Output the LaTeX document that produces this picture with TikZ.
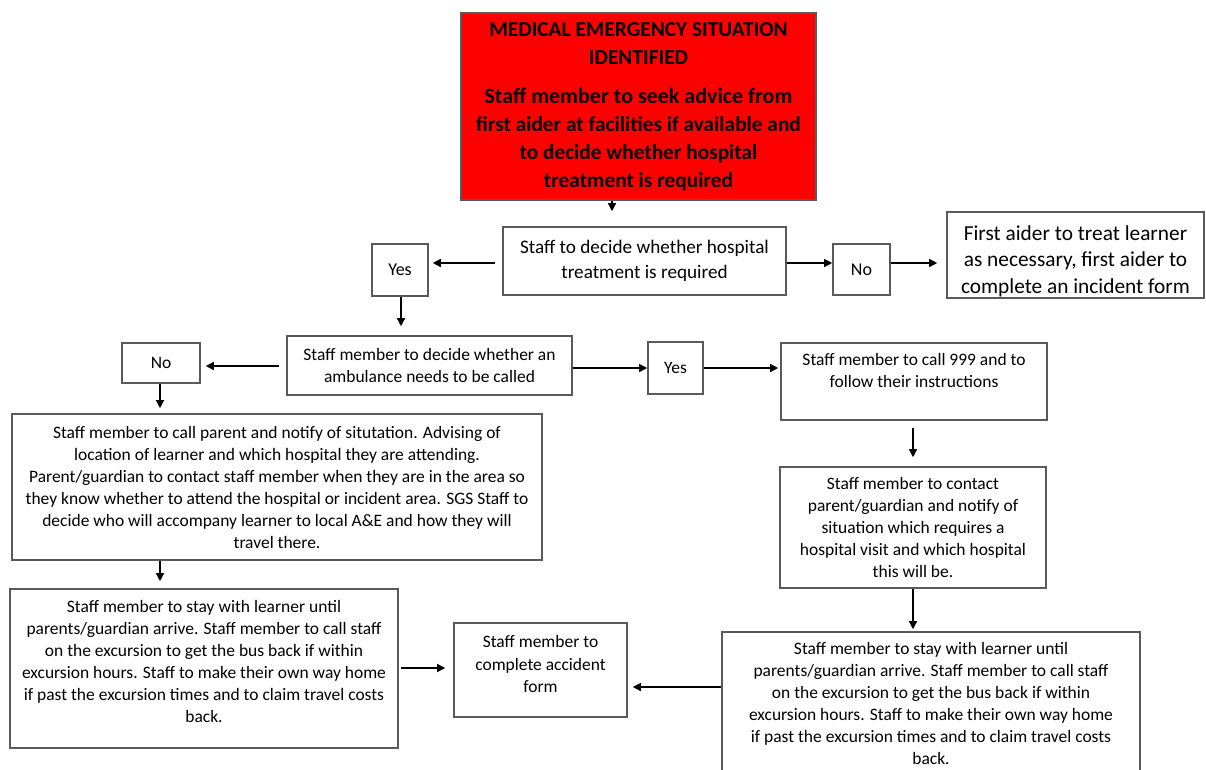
\documentclass[tikz,border=0pt]{standalone}
\usepackage{fontspec}
\setmainfont{Carlito}
\usetikzlibrary{arrows.meta}
\definecolor{EmRed}{HTML}{FF0000}
\definecolor{BoxGray}{HTML}{5A5A5A}
\newcommand{\fsz}[2]{\fontsize{#1}{#2}\selectfont}

\begin{document}
\begin{tikzpicture}[
    % 1 unit = 1 pixel of the sheet
    x=0.75pt, y=-0.75pt,
    >={Triangle[length=6pt,width=6pt]},
    box/.style={draw=BoxGray, line width=1.2pt, fill=white, align=center, inner sep=0pt},
    wh/.style 2 args={minimum width=#1*0.75pt, minimum height=#2*0.75pt},
    body/.style={font=\fsz{13.1}{16.5}},
    % text set off the middle of its box
    offtext/.style n args={3}{label={[align=center, inner sep=0pt, font=#2, yshift=#1]center:{#3}}},
    flow/.style={->, line width=1pt}
]

    \useasboundingbox (0,0) rectangle (1206,769);

    % --- 1. top box ---
    \node[box, fill=EmRed, wh={355}{187}, font=\bfseries\fsz{16}{21}] (alarm) at (638.5,106.5)
        {MEDICAL EMERGENCY SITUATION\\IDENTIFIED\\[8pt]\fsz{16.5}{19.5}Staff member to seek advice from\\first aider at facilities if available and\\to decide whether hospital\\treatment is required};

    % --- 2. first decision ---
    \node[box, wh={283}{68}, font=\fsz{14.4}{19}] (hosp) at (644.5,261)
        {Staff to decide whether hospital\\treatment is required};
    \node[box, wh={56}{52}, font=\fsz{13.5}{19}] (yesA) at (400,270) {Yes};
    \node[box, wh={57}{51}, font=\fsz{13.5}{19}] (noA) at (861.5,269.5) {No};
    \node[box, wh={257}{86},
          offtext={-4.5pt}{\fsz{16}{20}}{First aider to treat learner\\as necessary, first aider to\\complete an incident form}] (treat) at (1075.5,255) {};

    % --- 3. ambulance decision ---
    \node[box, wh={285}{59}, font=\fsz{13.1}{17}] (amb) at (429.5,365.5)
        {Staff member to decide whether an\\ambulance needs to be called};
    \node[box, wh={78}{40}, font=\fsz{13.1}{17}] (noB) at (161,363) {No};
    \node[box, wh={55}{52}, font=\fsz{13.1}{17}] (yesB) at (675.5,368) {Yes};

    % --- 4. right branch ---
    \node[box, body, wh={266}{77}] (call) at (914,381.5)
        {Staff member to call 999 and to\\follow their instructions\\\mbox{}};
    \node[box, body, wh={266}{121}] (notify) at (913,527.5)
        {Staff member to contact\\parent/guardian and notify of\\situation which requires a\\hospital visit and which hospital\\this will be.};
    \node[box, body, wh={418}{143}] (waitB) at (931,703.5)
        {Staff member to stay with learner until\\parents/guardian arrive. Staff member to call staff\\on the excursion to get the bus back if within\\excursion hours. Staff to make their own way home\\if past the excursion times and to claim travel costs\\back.};

    % --- 5. left branch ---
    \node[box, body, wh={530}{146}] (parent) at (277,487)
        {Staff member to call parent and notify of situtation. Advising of\\location of learner and which hospital they are attending.\\Parent/guardian to contact staff member when they are in the area so\\they know  whether to attend the hospital or incident area. SGS Staff to\\decide who will accompany learner to local A\&E and how they will\\travel there.};
    \node[box, wh={388}{159},
          offtext={5pt}{\fsz{13.1}{16.5}}{Staff member to stay with learner until\\parents/guardian arrive. Staff member to call staff\\on the excursion to get the bus back if within\\excursion hours. Staff to make their own way home\\if past the excursion times and to claim travel costs\\back.}] (waitA) at (204,668.5) {};
    \node[box, wh={173}{94},
          offtext={4.5pt}{\fsz{13.1}{17}}{Staff member to\\complete accident\\form}] (form) at (540.5,670) {};

    % --- 6. connectors ---
    \draw[flow, shorten >=11.25pt] (alarm.south -| 612,0) -- (hosp.north -| 612,0);
    \draw[flow, shorten <=5.25pt, shorten >=3pt] (hosp.west |- 0,263) -- (yesA.east |- 0,263);
    \draw[flow] (hosp.east |- 0,263) -- (noA.west |- 0,263);
    \draw[flow, shorten >=6.75pt] (noA.east |- 0,263) -- (treat.west |- 0,263);
    \draw[flow, shorten >=6.75pt] (yesA.south -| 401,0) -- (amb.north -| 401,0);

    \draw[flow, shorten <=5.25pt, shorten >=3.75pt] (amb.west |- 0,366) -- (noB.east |- 0,366);
    \draw[flow] (amb.east |- 0,368) -- (yesB.west |- 0,368);
    \draw[flow, shorten >=1.5pt] (yesB.east |- 0,368) -- (call.west |- 0,368);
    \draw[flow, shorten <=5.25pt, shorten >=6.75pt] (call.south -| 913,0) -- (notify.north -| 913,0);
    \draw[flow, shorten >=1.5pt] (notify.south -| 913,0) -- (waitB.north -| 913,0);
    \draw[flow, shorten >=3.75pt] (waitB.west |- 0,687) -- (form.east |- 0,687);

    \draw[flow, shorten >=3.75pt] (noB.south -| 160,0) -- (parent.north -| 160,0);
    \draw[flow, shorten >=5.25pt] (parent.south -| 160,0) -- (waitA.north -| 160,0);
    \draw[flow, shorten <=1.5pt, shorten >=6pt] (waitA.east |- 0,668) -- (form.west |- 0,668);

\end{tikzpicture}
\end{document}
